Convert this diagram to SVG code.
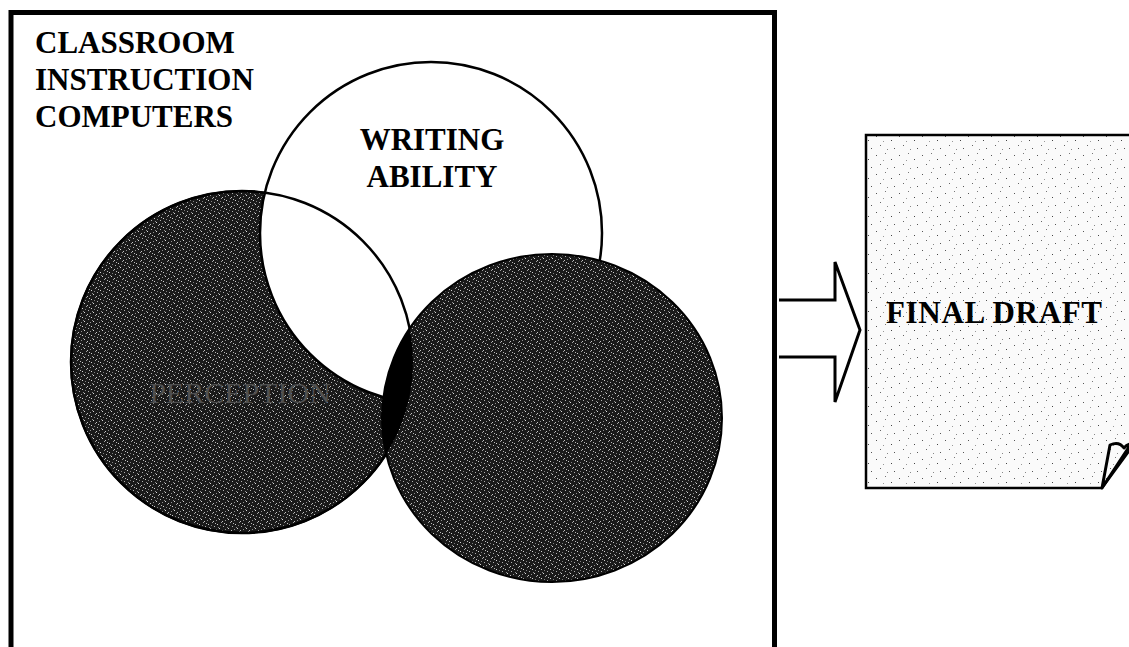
<svg xmlns="http://www.w3.org/2000/svg" width="1129" height="647" viewBox="0 0 1129 647">
<style>
.lbl{font-family:"Liberation Serif","Times New Roman",serif;font-weight:bold;font-size:31px;fill:#000}
.outline{fill:none;stroke:#000;stroke-width:2.5}
</style>
<defs>
<pattern id="dark" width="9" height="9" patternUnits="userSpaceOnUse">
<rect width="9" height="9" fill="#1a1a1a"/>
<rect x="1" y="2" width="1" height="1" fill="#d0d0d0"/>
<rect x="5" y="0" width="1" height="1" fill="#a0a0a0"/>
<rect x="3" y="6" width="1" height="1" fill="#d8d8d8"/>
<rect x="7" y="4" width="1" height="1" fill="#b0b0b0"/>
<rect x="0" y="7" width="1" height="1" fill="#909090"/>
<rect x="6" y="8" width="1" height="1" fill="#c4c4c4"/>
<rect x="4" y="3" width="1" height="1" fill="#808080"/>
<rect x="8" y="1" width="1" height="1" fill="#b8b8b8"/>
<rect x="2" y="5" width="1" height="1" fill="#8c8c8c"/>
</pattern>
<pattern id="light" width="23" height="19" patternUnits="userSpaceOnUse">
<rect width="23" height="19" fill="#fafafa"/>
<rect x="2" y="3" width="1" height="1" fill="#555"/>
<rect x="11" y="1" width="1" height="1" fill="#777"/>
<rect x="17" y="7" width="1" height="1" fill="#444"/>
<rect x="6" y="12" width="1" height="1" fill="#666"/>
<rect x="20" y="15" width="1" height="1" fill="#555"/>
<rect x="13" y="16" width="1" height="1" fill="#888"/>
<rect x="9" y="8" width="1" height="1" fill="#999"/>
</pattern>
<clipPath id="leftClip"><circle cx="242" cy="362" r="171"/></clipPath>
</defs>

<g id="classroom">
<path d="M11,647 V12.5 H774.5 V647" fill="none" stroke="#000" stroke-width="5"/>
<text class="lbl" x="35" y="53">CLASSROOM</text>
<text class="lbl" x="35" y="90">INSTRUCTION</text>
<text class="lbl" x="35" y="127">COMPUTERS</text>
</g>

<g id="perception">
<circle cx="242" cy="362" r="171" fill="url(#dark)" stroke="#000" stroke-width="2"/>
</g>

<g id="writing-ability">
<circle cx="431" cy="233" r="171" fill="#fff" stroke="#000" stroke-width="2.5"/>
<text class="lbl" x="432" y="150" text-anchor="middle">WRITING</text>
<text class="lbl" x="432" y="187" text-anchor="middle">ABILITY</text>
</g>

<g id="perception-outline">
<circle cx="242" cy="362" r="171" class="outline"/>
<text x="240" y="403" text-anchor="middle" font-family="Liberation Serif, serif" font-size="30" fill="#505050">PERCEPTION</text>
</g>

<g id="right-circle">
<ellipse cx="552" cy="418" rx="170" ry="164" fill="url(#dark)" stroke="#000" stroke-width="2"/>
<ellipse cx="552" cy="418" rx="170" ry="164" fill="#000" clip-path="url(#leftClip)"/>
</g>

<g id="connectors">
<path d="M779,300 H835 V262 L860,330 L835,402 V357 H779" fill="#fff" stroke="#000" stroke-width="3" stroke-linejoin="miter"/>
</g>

<g id="final-draft">
<path d="M866,135 H1132 V447 L1102,488 H866 Z" fill="url(#light)" stroke="#000" stroke-width="2.5"/>
<path d="M1102,488 L1110,445 Q1119,441 1124,448 Q1127,444 1131,444 Z" fill="url(#light)" stroke="#000" stroke-width="3" stroke-linejoin="round"/>
<text class="lbl" x="886" y="323" font-size="31.5" textLength="216">FINAL DRAFT</text>
</g>
</svg>
